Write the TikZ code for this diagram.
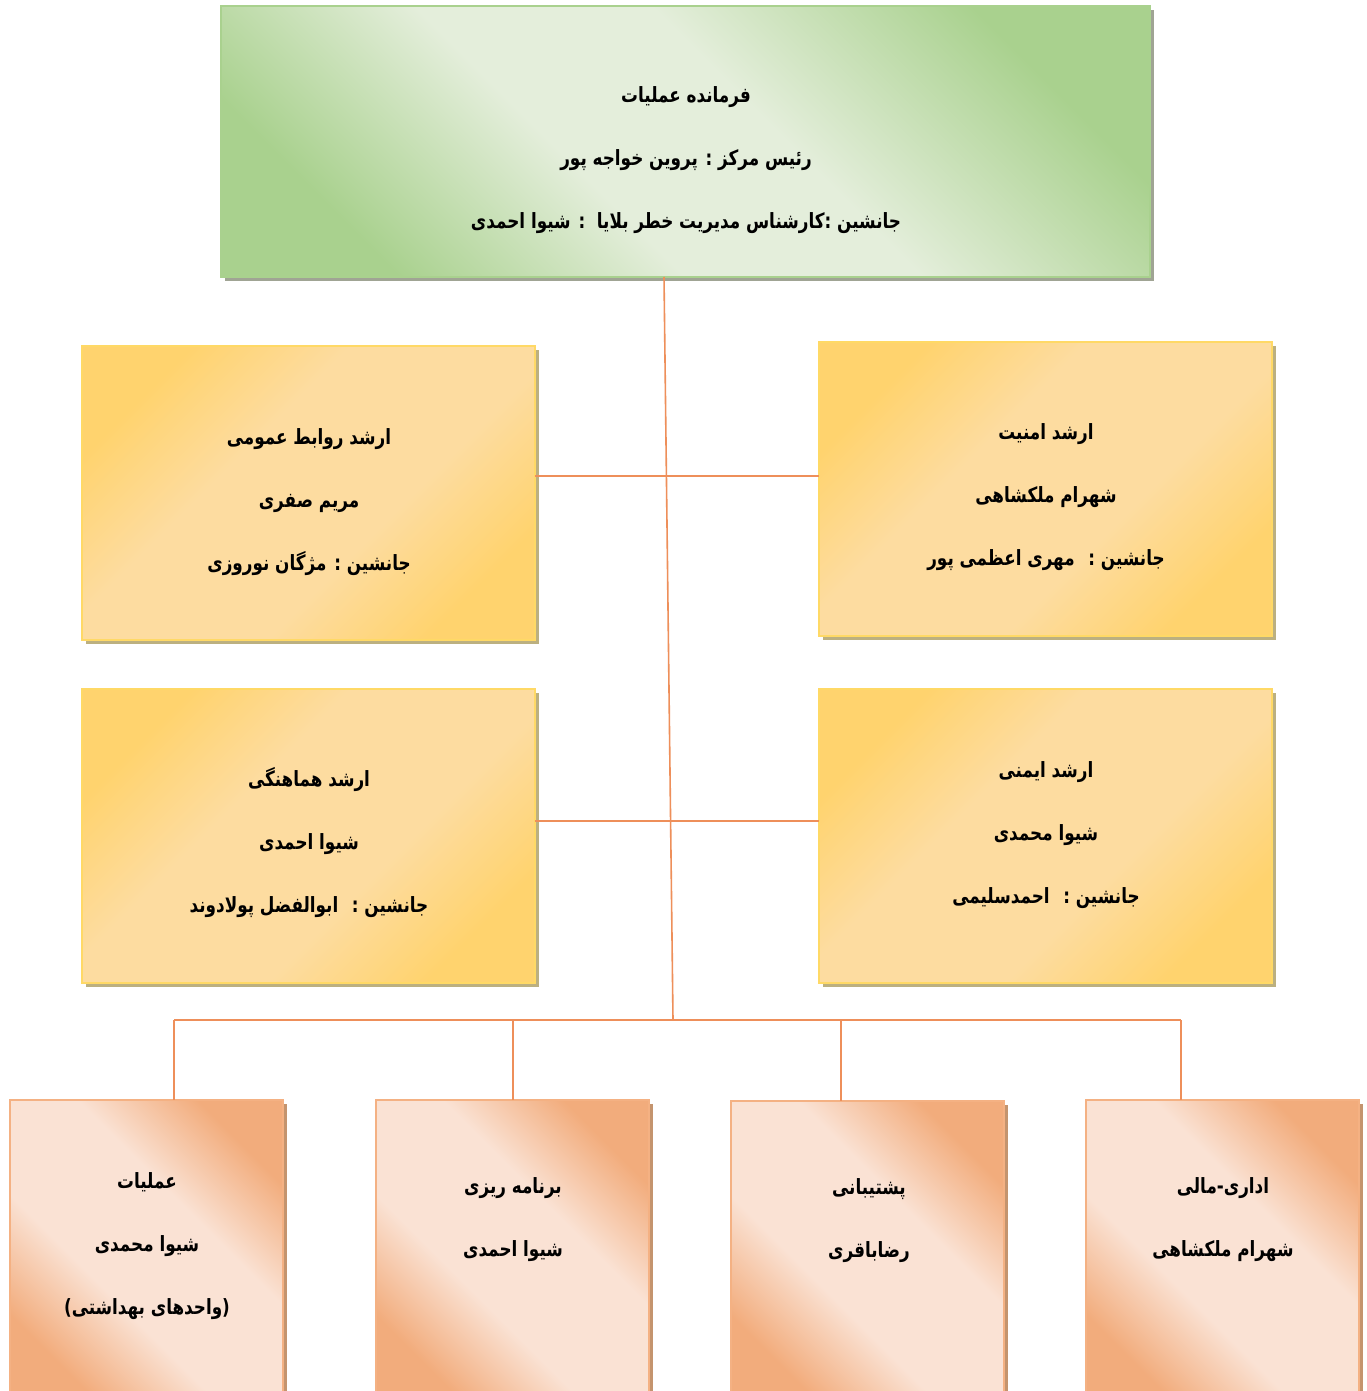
\documentclass[tikz,border=0pt]{standalone}
\usepackage{fontspec}
\usetikzlibrary{shadows}
\newfontfamily\arabicfont[Script=Arabic,FakeStretch=0.8]{DejaVu Sans}
\TeXXeTstate=1
\definecolor{grnD}{HTML}{A9D18E}
\definecolor{grnL}{HTML}{E4EEDB}
\definecolor{grnB}{HTML}{A9D18E}
\definecolor{grnS}{HTML}{A0A494}
\definecolor{ylwD}{HTML}{FFD36E}
\definecolor{ylwL}{HTML}{FDDCA0}
\definecolor{ylwB}{HTML}{FFD966}
\definecolor{ylwS}{HTML}{BCB080}
\definecolor{orgD}{HTML}{F2AC7C}
\definecolor{orgL}{HTML}{FAE2D4}
\definecolor{orgB}{HTML}{F4B183}
\definecolor{orgS}{HTML}{C4946E}
\definecolor{lnk}{HTML}{EE8F5A}
\pgfdeclarehorizontalshading{grnsh}{100bp}{color(0bp)=(grnD); color(25bp)=(grnD); color(42bp)=(grnL); color(56bp)=(grnL); color(75bp)=(grnD); color(100bp)=(grnD)}
\pgfdeclarehorizontalshading{ylwsh}{100bp}{color(0bp)=(ylwD); color(25bp)=(ylwD); color(40bp)=(ylwL); color(60bp)=(ylwL); color(75bp)=(ylwD); color(100bp)=(ylwD)}
\pgfdeclarehorizontalshading{orgsh}{100bp}{color(0bp)=(orgD); color(25bp)=(orgD); color(40bp)=(orgL); color(60bp)=(orgL); color(75bp)=(orgD); color(100bp)=(orgD)}
\tikzset{
  boxbase/.style={inner sep=0pt, outer sep=0pt, line width=1pt},
  topbox/.style={boxbase, draw=grnB, shading=grnsh, shading angle=45,
    drop shadow={shadow xshift=2pt, shadow yshift=-2pt, fill=grnS, opacity=1},
    minimum width=464.5pt, minimum height=135.5pt},
  midbox/.style={boxbase, draw=ylwB, shading=ylwsh, shading angle=-45,
    drop shadow={shadow xshift=2pt, shadow yshift=-2pt, fill=ylwS, opacity=1},
    minimum width=226.5pt, minimum height=147pt},
  lowbox/.style={boxbase, draw=orgB, shading=orgsh, shading angle=45,
    drop shadow={shadow xshift=2pt, shadow yshift=-2pt, fill=orgS, opacity=1},
    minimum width=136.5pt, minimum height=150pt},
  txt/.style={align=center, inner sep=0pt, font=\arabicfont\bfseries\fontsize{10.5}{31.5}\selectfont},
  link/.style={draw=lnk, line width=0.8pt}
}
\begin{document}
\begin{tikzpicture}[x=0.5pt,y=-0.5pt]
\useasboundingbox[fill=white] (0,0) rectangle (1366,1391);
% boxes
\node[topbox] (top) at (685.5,141.5) {};
\node[midbox] (ml1) at (308.5,493) {};
\node[midbox] (mr1) at (1045.5,489) {};
\node[midbox] (ml2) at (308.5,836) {};
\node[midbox] (mr2) at (1045.5,836) {};
\node[lowbox] (b1) at (146.5,1250) {};
\node[lowbox] (b2) at (512,1250) {};
\node[lowbox] (b3) at (867.5,1251) {};
\node[lowbox] (b4) at (1222.5,1250) {};
% connectors
\coordinate (bus) at (673,1020);
\coordinate (j1) at (668,476);
\coordinate (j2) at (670,821);
\coordinate (d1) at (174,1020);
\coordinate (d2) at (513,1020);
\coordinate (d3) at (841,1020);
\coordinate (d4) at (1181,1020);
\draw[link] (top.south -| 664,0) -- (bus);
\draw[link] (ml1.east |- j1) -- (mr1.west |- j1);
\draw[link] (ml2.east |- j2) -- (mr2.west |- j2);
\draw[link] (d1) -- (d4);
\draw[link] (d1) -- (d1 |- b1.north);
\draw[link] (d2) -- (d2 |- b2.north);
\draw[link] (d3) -- (d3 |- b3.north);
\draw[link] (d4) -- (d4 |- b4.north);
% texts
\node[txt] (ttop) at (686,160) {\beginR فرمانده عملیات\endR\\ \beginR رئیس مرکز : پروین خواجه پور\endR\\ \beginR جانشین :کارشناس مدیریت خطر بلایا ~: شیوا احمدی\endR};
\node[txt] (tml1) at (309,502) {\beginR ارشد روابط عمومی\endR\\ \beginR مریم صفری\endR\\ \beginR جانشین : مژگان نوروزی\endR};
\node[txt] (tmr1) at (1046,497) {\beginR ارشد امنیت\endR\\ \beginR شهرام ملکشاهی\endR\\ \beginR جانشین :~ مهری اعظمی پور\endR};
\node[txt] (tml2) at (309,843) {\beginR ارشد هماهنگی\endR\\ \beginR شیوا احمدی\endR\\ \beginR جانشین :~ ابوالفضل پولادوند\endR};
\node[txt] (tmr2) at (1046,835) {\beginR ارشد ایمنی\endR\\ \beginR شیوا محمدی\endR\\ \beginR جانشین :~ احمدسلیمی\endR};
\node[txt] (tb1) at (147,1246) {\beginR عملیات\endR\\ \beginR شیوا محمدی\endR\\ \beginR (واحدهای بهداشتی)\endR};
\node[txt] (tb2) at (513,1220) {\beginR برنامه ریزی\endR\\ \beginR شیوا احمدی\endR};
\node[txt] (tb3) at (869,1221) {\beginR پشتیبانی\endR\\ \beginR رضاباقری\endR};
\node[txt] (tb4) at (1223,1220) {\beginR اداری-مالی\endR\\ \beginR شهرام ملکشاهی\endR};
\end{tikzpicture}
\end{document}
